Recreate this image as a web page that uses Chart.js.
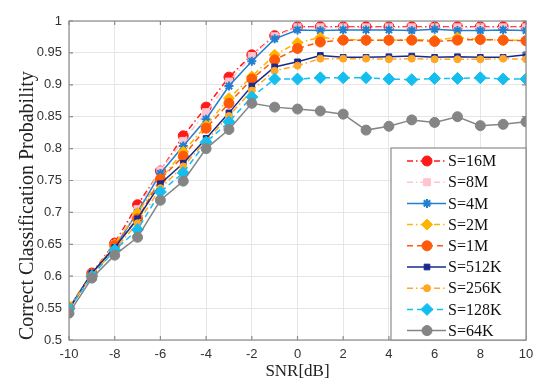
<!DOCTYPE html>
<html>
<head>
<meta charset="utf-8">
<script src="https://cdn.jsdelivr.net/npm/chart.js@4/dist/chart.umd.min.js"></script>
<style>
  html, body { margin: 0; padding: 0; background: #fff; }
  canvas { display: block; }
</style>
</head>
<body>
<canvas id="chart" width="550" height="391"></canvas>
<script>
// SNR values on the x axis
const snr = [-10, -9, -8, -7, -6, -5, -4, -3, -2, -1, 0, 1, 2, 3, 4, 5, 6, 7, 8, 9, 10];

// correct classification probability per sample size
const s16M  = [0.550, 0.605, 0.652, 0.712, 0.765, 0.820, 0.865, 0.912, 0.947, 0.977, 0.991, 0.991, 0.991, 0.991, 0.991, 0.991, 0.991, 0.991, 0.991, 0.991, 0.991];
const s8M   = [0.550, 0.604, 0.650, 0.705, 0.766, 0.812, 0.857, 0.905, 0.945, 0.976, 0.990, 0.990, 0.990, 0.990, 0.990, 0.990, 0.990, 0.990, 0.990, 0.990, 0.990];
const s4M   = [0.548, 0.604, 0.646, 0.700, 0.761, 0.804, 0.846, 0.898, 0.937, 0.972, 0.986, 0.985, 0.986, 0.986, 0.986, 0.985, 0.987, 0.985, 0.985, 0.986, 0.985];
const s2M   = [0.553, 0.603, 0.650, 0.699, 0.752, 0.795, 0.836, 0.879, 0.913, 0.947, 0.966, 0.974, 0.971, 0.970, 0.970, 0.971, 0.970, 0.974, 0.971, 0.970, 0.970];
const s1M   = [0.550, 0.602, 0.648, 0.690, 0.752, 0.788, 0.832, 0.871, 0.909, 0.939, 0.957, 0.967, 0.970, 0.970, 0.970, 0.970, 0.968, 0.970, 0.971, 0.970, 0.969];
const s512K = [0.549, 0.605, 0.645, 0.690, 0.745, 0.777, 0.816, 0.856, 0.898, 0.928, 0.936, 0.946, 0.943, 0.943, 0.944, 0.945, 0.943, 0.944, 0.943, 0.943, 0.947];
const s256K = [0.551, 0.601, 0.642, 0.683, 0.738, 0.772, 0.812, 0.851, 0.891, 0.922, 0.930, 0.941, 0.941, 0.941, 0.940, 0.941, 0.940, 0.940, 0.940, 0.941, 0.940];
const s128K = [0.549, 0.600, 0.641, 0.673, 0.732, 0.762, 0.810, 0.842, 0.881, 0.909, 0.909, 0.911, 0.911, 0.911, 0.909, 0.908, 0.910, 0.910, 0.911, 0.909, 0.909];
const s64K  = [0.542, 0.597, 0.633, 0.661, 0.719, 0.749, 0.800, 0.830, 0.871, 0.865, 0.862, 0.859, 0.854, 0.829, 0.835, 0.845, 0.841, 0.850, 0.836, 0.838, 0.842];

const seriesLabels = ['S=16M', 'S=8M', 'S=4M', 'S=2M', 'S=1M', 'S=512K', 'S=256K', 'S=128K', 'S=64K'];
const seriesValues = [s16M, s8M, s4M, s2M, s1M, s512K, s256K, s128K, s64K];

const dashDot = [6, 3, 1.5, 3];
const dashed = [6, 4];
const styles = [
  { color: '#ff1a1a', dash: dashDot, point: 'circle', r: 5 },
  { color: '#ffc4cf', dash: dashDot, point: 'rect', r: 5 },
  { color: '#1f7fd0', dash: [], point: 'star', r: 4.5 },
  { color: '#ffb400', dash: dashDot, point: 'rectRot', r: 5.5 },
  { color: '#ff5a0a', dash: dashed, point: 'circle', r: 5 },
  { color: '#1a2a8c', dash: [], point: 'rect', r: 4 },
  { color: '#ffa726', dash: dashDot, point: 'circle', r: 3.5 },
  { color: '#14bff0', dash: dashed, point: 'rectRot', r: 6 },
  { color: '#858585', dash: [], point: 'circle', r: 5 }
];

const datasets = seriesLabels.map((label, i) => ({
  label: label,
  data: snr.map((x, j) => ({ x: x, y: seriesValues[i][j] })),
  borderColor: styles[i].color,
  backgroundColor: styles[i].color,
  borderDash: styles[i].dash,
  borderWidth: 1.5,
  pointStyle: styles[i].point,
  pointRadius: styles[i].r,
  pointBorderWidth: styles[i].point === 'star' ? 2 : 1,
  pointBackgroundColor: styles[i].color,
  pointBorderColor: styles[i].color,
  tension: 0,
  order: 9 - i
}));

// box round the plot, inward tick marks, legend in the lower right corner
const matlabFrame = {
  id: 'matlabFrame',
  afterDraw(chart) {
    const { ctx, chartArea: a, scales } = chart;
    ctx.save();
    ctx.strokeStyle = '#8c8c8c';
    ctx.lineWidth = 1.2;
    ctx.setLineDash([]);
    ctx.strokeRect(a.left, a.top, a.right - a.left, a.bottom - a.top);
    ctx.beginPath();
    scales.x.ticks.forEach(t => {
      const px = scales.x.getPixelForValue(t.value);
      ctx.moveTo(px, a.bottom); ctx.lineTo(px, a.bottom - 4);
      ctx.moveTo(px, a.top); ctx.lineTo(px, a.top + 4);
    });
    scales.y.ticks.forEach(t => {
      const py = scales.y.getPixelForValue(t.value);
      ctx.moveTo(a.left, py); ctx.lineTo(a.left + 4, py);
      ctx.moveTo(a.right, py); ctx.lineTo(a.right - 4, py);
    });
    ctx.stroke();

    // legend
    const w = 135, h = 192;
    const left = a.right - w, top = a.bottom - h;
    ctx.fillStyle = '#ffffff';
    ctx.fillRect(left, top, w, h);
    ctx.strokeStyle = '#8c8c8c';
    ctx.lineWidth = 1.2;
    ctx.strokeRect(left, top, w, h);
    ctx.font = '16px "Liberation Serif", "Times New Roman", serif';
    ctx.textBaseline = 'middle';
    ctx.textAlign = 'left';
    chart.data.datasets.forEach((ds, i) => {
      const y = top + 13 + i * 21.2;
      ctx.strokeStyle = ds.borderColor;
      ctx.lineWidth = 1.5;
      ctx.setLineDash(ds.borderDash);
      ctx.beginPath();
      ctx.moveTo(left + 16, y);
      ctx.lineTo(left + 55, y);
      ctx.stroke();
      ctx.setLineDash([]);
      ctx.fillStyle = ds.pointBackgroundColor;
      ctx.strokeStyle = ds.pointBorderColor;
      const opts = { pointStyle: ds.pointStyle, radius: ds.pointRadius, rotation: 0, borderWidth: ds.pointBorderWidth };
      if (Chart.helpers && Chart.helpers.drawPoint) {
        ctx.lineWidth = ds.pointBorderWidth;
        Chart.helpers.drawPoint(ctx, opts, left + 36, y);
      } else {
        ctx.beginPath();
        ctx.arc(left + 36, y, ds.pointRadius, 0, Math.PI * 2);
        ctx.fill();
      }
      ctx.fillStyle = '#111';
      ctx.fillText(ds.label, left + 57, y + 1);
    });
    ctx.restore();
  }
};

new Chart(document.getElementById('chart'), {
  type: 'line',
  data: { datasets: datasets },
  options: {
    responsive: false,
    animation: false,
    devicePixelRatio: 1,
    layout: { padding: { left: 0, top: 21, right: 24, bottom: 0 } },
    plugins: {
      legend: { display: false },
      tooltip: { enabled: false }
    },
    scales: {
      x: {
        type: 'linear',
        min: -10,
        max: 10,
        afterFit: s => { s.height = 51; },
        ticks: {
          stepSize: 2,
          padding: 7,
          color: '#333',
          font: { family: '"Liberation Sans", Arial, sans-serif', size: 13 }
        },
        grid: { color: '#e6e6e6', drawTicks: false },
        border: { display: false },
        title: {
          display: true,
          text: 'SNR[dB]',
          color: '#222',
          padding: { top: 0, bottom: 9 },
          font: { family: '"Liberation Serif", "Times New Roman", serif', size: 17 }
        }
      },
      y: {
        min: 0.5,
        max: 1,
        afterFit: s => { s.width = 69; },
        ticks: {
          stepSize: 0.05,
          padding: 7,
          color: '#333',
          font: { family: '"Liberation Sans", Arial, sans-serif', size: 13 },
          callback: v => String(+v.toFixed(2))
        },
        grid: { color: '#e6e6e6', drawTicks: false },
        border: { display: false },
        title: {
          display: true,
          text: 'Correct Classification Probability',
          align: 'start',
          color: '#222',
          padding: { top: 16, bottom: 0 },
          font: { family: '"Liberation Serif", "Times New Roman", serif', size: 20 }
        }
      }
    }
  },
  plugins: [matlabFrame]
});
</script>
</body>
</html>
